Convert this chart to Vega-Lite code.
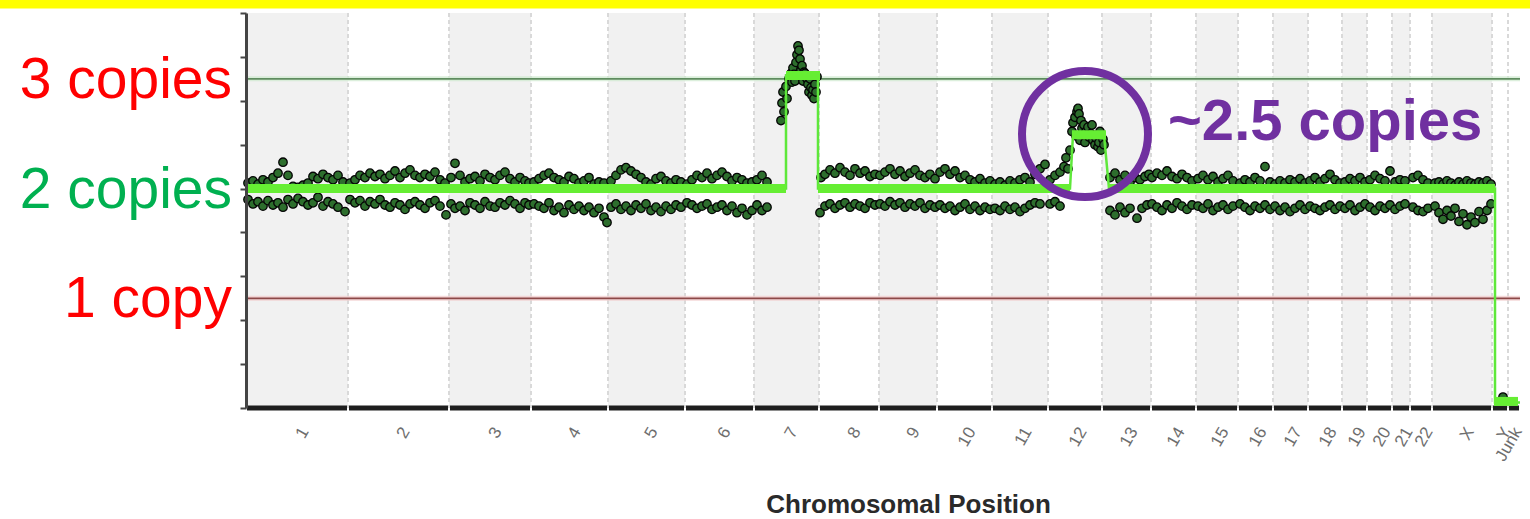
{
"$schema": "https://vega.github.io/schema/vega-lite/v6.json",
"width": 1274,
"height": 395,
"autosize": {"type": "none"},
"padding": {"left": 246, "top": 13, "right": 10, "bottom": 111},
"background": "white",
"config": {"view": {"stroke": null}, "font": "Liberation Sans", "axis": {"grid": false}},
"datasets": {
"chroms": [
{"n":"1","i":1,"s":0,"e":102,"m":51},{"n":"2","i":2,"s":102,"e":203,"m":152},{"n":"3","i":3,"s":203,"e":285,"m":244},{"n":"4","i":4,"s":285,"e":362,"m":323},{"n":"5","i":5,"s":362,"e":439,"m":400},{"n":"6","i":6,"s":439,"e":508,"m":473},{"n":"7","i":7,"s":508,"e":573,"m":540},{"n":"8","i":8,"s":573,"e":633,"m":603},{"n":"9","i":9,"s":633,"e":691,"m":662},{"n":"10","i":10,"s":691,"e":746,"m":718},{"n":"11","i":11,"s":746,"e":802,"m":774},{"n":"12","i":12,"s":802,"e":856,"m":829},{"n":"13","i":13,"s":856,"e":905,"m":880},{"n":"14","i":14,"s":905,"e":950,"m":927},{"n":"15","i":15,"s":950,"e":992,"m":971},{"n":"16","i":16,"s":992,"e":1027,"m":1009},{"n":"17","i":17,"s":1027,"e":1062,"m":1044},{"n":"18","i":18,"s":1062,"e":1096,"m":1079},{"n":"19","i":19,"s":1096,"e":1121,"m":1108},{"n":"20","i":20,"s":1121,"e":1146,"m":1133},{"n":"21","i":21,"s":1146,"e":1164,"m":1155},{"n":"22","i":22,"s":1164,"e":1186,"m":1175},{"n":"X","i":23,"s":1186,"e":1246,"m":1216},{"n":"Y","i":24,"s":1246,"e":1262,"m":1253},{"n":"Junk","i":25,"s":1262,"e":1274,"m":1264}
],
"lines": [{"c":3},{"c":1}],
"seg": [
{"o":1,"p":0,"c":2},{"o":2,"p":540,"c":2},{"o":3,"p":540,"c":3.03},{"o":4,"p":572,"c":3.03},{"o":5,"p":572,"c":2},{"o":6,"p":824,"c":2},{"o":7,"p":827,"c":2.49},{"o":8,"p":858,"c":2.49},{"o":9,"p":863,"c":2},{"o":10,"p":1249,"c":2},{"o":11,"p":1249,"c":0.05},{"o":12,"p":1274,"c":0.05}
],
"flat": [
{"p":0,"p2":540,"c":2},{"p":540,"p2":574,"c":3.03},{"p":572,"p2":824,"c":2},{"p":826,"p2":860,"c":2.49},{"p":862,"p2":1249,"c":2},{"p":1248,"p2":1272,"c":0.06}
],
"copytext": [{"t":"3 copies","c":3},{"t":"2 copies","c":2},{"t":"1 copy","c":1}],
"points": [
{"p":2,"c":2.05},{"p":2,"c":1.90},{"p":7,"c":2.07},{"p":7,"c":1.86},{"p":12,"c":2.04},{"p":12,"c":1.88},{"p":17,"c":2.08},{"p":17,"c":1.84},{"p":22,"c":2.06},{"p":22,"c":1.89},{"p":27,"c":2.10},{"p":27,"c":1.85},{"p":32,"c":2.14},{"p":32,"c":1.87},{"p":37,"c":2.24},{"p":37,"c":1.83},{"p":42,"c":2.12},{"p":42,"c":1.90},{"p":47,"c":2.02},{"p":47,"c":1.86},{"p":52,"c":2.01},{"p":52,"c":1.91},{"p":57,"c":2.03},{"p":57,"c":1.88},{"p":62,"c":2.05},{"p":62,"c":1.85},{"p":67,"c":2.11},{"p":67,"c":1.87},{"p":72,"c":2.09},{"p":72,"c":1.92},{"p":77,"c":2.13},{"p":77,"c":1.84},{"p":82,"c":2.10},{"p":82,"c":1.88},{"p":87,"c":2.08},{"p":87,"c":1.86},{"p":92,"c":2.12},{"p":92,"c":1.83},{"p":97,"c":2.06},{"p":99,"c":1.79},
{"p":104,"c":2.05},{"p":104,"c":1.90},{"p":109,"c":2.08},{"p":109,"c":1.87},{"p":114,"c":2.12},{"p":114,"c":1.89},{"p":119,"c":2.10},{"p":119,"c":1.84},{"p":124,"c":2.14},{"p":124,"c":1.88},{"p":129,"c":2.11},{"p":129,"c":1.86},{"p":134,"c":2.13},{"p":134,"c":1.90},{"p":139,"c":2.09},{"p":139,"c":1.85},{"p":144,"c":2.12},{"p":144,"c":1.83},{"p":149,"c":2.16},{"p":149,"c":1.87},{"p":154,"c":2.10},{"p":154,"c":1.85},{"p":159,"c":2.14},{"p":159,"c":1.81},{"p":164,"c":2.17},{"p":164,"c":1.86},{"p":169,"c":2.12},{"p":169,"c":1.88},{"p":174,"c":2.10},{"p":174,"c":1.85},{"p":179,"c":2.13},{"p":179,"c":1.82},{"p":184,"c":2.11},{"p":184,"c":1.87},{"p":189,"c":2.15},{"p":189,"c":1.89},{"p":194,"c":2.08},{"p":194,"c":1.84},{"p":199,"c":2.05},{"p":200,"c":1.76},
{"p":205,"c":2.10},{"p":205,"c":1.86},{"p":209,"c":2.23},{"p":209,"c":1.82},{"p":214,"c":2.12},{"p":214,"c":1.84},{"p":219,"c":2.06},{"p":219,"c":1.80},{"p":224,"c":2.09},{"p":224,"c":1.87},{"p":229,"c":2.11},{"p":229,"c":1.85},{"p":234,"c":2.07},{"p":234,"c":1.82},{"p":239,"c":2.13},{"p":239,"c":1.88},{"p":244,"c":2.10},{"p":244,"c":1.84},{"p":249,"c":2.08},{"p":249,"c":1.83},{"p":254,"c":2.12},{"p":254,"c":1.87},{"p":259,"c":2.15},{"p":259,"c":1.85},{"p":264,"c":2.09},{"p":264,"c":1.89},{"p":269,"c":2.06},{"p":269,"c":1.86},{"p":274,"c":2.10},{"p":274,"c":1.82},{"p":279,"c":2.07},{"p":279,"c":1.87},{"p":283,"c":2.05},{"p":283,"c":1.85},
{"p":288,"c":2.06},{"p":288,"c":1.86},{"p":293,"c":2.09},{"p":293,"c":1.84},{"p":298,"c":2.12},{"p":298,"c":1.82},{"p":303,"c":2.14},{"p":303,"c":1.87},{"p":308,"c":2.10},{"p":308,"c":1.80},{"p":313,"c":2.08},{"p":313,"c":1.83},{"p":318,"c":2.06},{"p":318,"c":1.78},{"p":323,"c":2.11},{"p":323,"c":1.85},{"p":328,"c":2.09},{"p":328,"c":1.81},{"p":333,"c":2.05},{"p":333,"c":1.84},{"p":338,"c":2.07},{"p":338,"c":1.80},{"p":343,"c":2.10},{"p":343,"c":1.83},{"p":348,"c":2.04},{"p":348,"c":1.78},{"p":353,"c":2.06},{"p":353,"c":1.82},{"p":358,"c":2.05},{"p":358,"c":1.74},{"p":361,"c":1.69},
{"p":365,"c":2.07},{"p":365,"c":1.83},{"p":370,"c":2.12},{"p":370,"c":1.86},{"p":375,"c":2.17},{"p":375,"c":1.81},{"p":380,"c":2.19},{"p":380,"c":1.84},{"p":385,"c":2.16},{"p":385,"c":1.80},{"p":390,"c":2.13},{"p":390,"c":1.85},{"p":395,"c":2.10},{"p":395,"c":1.82},{"p":400,"c":2.06},{"p":400,"c":1.86},{"p":405,"c":2.04},{"p":405,"c":1.80},{"p":410,"c":2.09},{"p":410,"c":1.83},{"p":415,"c":2.11},{"p":415,"c":1.79},{"p":420,"c":2.07},{"p":420,"c":1.84},{"p":425,"c":2.05},{"p":425,"c":1.81},{"p":430,"c":2.08},{"p":430,"c":1.85},{"p":435,"c":2.06},{"p":435,"c":1.83},
{"p":441,"c":2.04},{"p":441,"c":1.87},{"p":446,"c":2.08},{"p":446,"c":1.85},{"p":451,"c":2.12},{"p":451,"c":1.82},{"p":456,"c":2.10},{"p":456,"c":1.84},{"p":461,"c":2.14},{"p":461,"c":1.86},{"p":466,"c":2.09},{"p":466,"c":1.81},{"p":471,"c":2.12},{"p":471,"c":1.83},{"p":476,"c":2.15},{"p":476,"c":1.85},{"p":481,"c":2.11},{"p":481,"c":1.80},{"p":486,"c":2.07},{"p":486,"c":1.84},{"p":491,"c":2.10},{"p":491,"c":1.78},{"p":496,"c":2.08},{"p":496,"c":1.82},{"p":501,"c":2.05},{"p":501,"c":1.76},{"p":506,"c":2.06},{"p":506,"c":1.80},
{"p":511,"c":2.08},{"p":511,"c":1.85},{"p":516,"c":2.12},{"p":516,"c":1.80},{"p":521,"c":2.06},{"p":521,"c":1.83},
{"p":535,"c":2.62},{"p":536,"c":2.78},{"p":537,"c":2.88},{"p":538,"c":2.70},{"p":540,"c":2.93},{"p":541,"c":2.82},{"p":543,"c":3.00},{"p":544,"c":3.02},{"p":545,"c":3.05},{"p":546,"c":2.97},{"p":547,"c":3.10},{"p":548,"c":3.04},{"p":549,"c":2.98},{"p":550,"c":3.15},{"p":551,"c":3.22},{"p":552,"c":3.30},{"p":553,"c":3.26},{"p":554,"c":3.18},{"p":555,"c":3.08},{"p":556,"c":3.12},{"p":557,"c":2.98},{"p":558,"c":3.06},{"p":559,"c":3.05},{"p":560,"c":3.02},{"p":561,"c":3.00},{"p":562,"c":2.95},{"p":563,"c":2.88},{"p":564,"c":3.00},{"p":565,"c":2.92},{"p":566,"c":2.85},{"p":567,"c":2.90},{"p":568,"c":2.82},{"p":569,"c":2.95},{"p":570,"c":2.88},{"p":571,"c":3.02},
{"p":574,"c":1.78},{"p":575,"c":2.10},{"p":579,"c":2.13},{"p":579,"c":1.84},{"p":584,"c":2.17},{"p":584,"c":1.86},{"p":589,"c":2.14},{"p":589,"c":1.82},{"p":594,"c":2.19},{"p":594,"c":1.85},{"p":599,"c":2.15},{"p":599,"c":1.87},{"p":604,"c":2.12},{"p":604,"c":1.83},{"p":609,"c":2.18},{"p":609,"c":1.86},{"p":614,"c":2.14},{"p":614,"c":1.84},{"p":619,"c":2.16},{"p":619,"c":1.82},{"p":624,"c":2.11},{"p":624,"c":1.87},{"p":629,"c":2.13},{"p":629,"c":1.85},
{"p":634,"c":2.12},{"p":634,"c":1.86},{"p":639,"c":2.15},{"p":639,"c":1.84},{"p":644,"c":2.18},{"p":644,"c":1.88},{"p":649,"c":2.13},{"p":649,"c":1.85},{"p":654,"c":2.16},{"p":654,"c":1.87},{"p":659,"c":2.11},{"p":659,"c":1.83},{"p":664,"c":2.14},{"p":664,"c":1.86},{"p":669,"c":2.17},{"p":669,"c":1.84},{"p":674,"c":2.12},{"p":674,"c":1.87},{"p":679,"c":2.10},{"p":679,"c":1.82},{"p":684,"c":2.13},{"p":684,"c":1.85},{"p":689,"c":2.09},{"p":689,"c":1.83},
{"p":694,"c":2.15},{"p":694,"c":1.85},{"p":699,"c":2.18},{"p":699,"c":1.82},{"p":704,"c":2.13},{"p":704,"c":1.84},{"p":709,"c":2.16},{"p":709,"c":1.80},{"p":714,"c":2.10},{"p":714,"c":1.83},{"p":719,"c":2.12},{"p":719,"c":1.86},{"p":724,"c":2.08},{"p":724,"c":1.81},{"p":729,"c":2.06},{"p":729,"c":1.84},{"p":734,"c":2.09},{"p":734,"c":1.80},{"p":739,"c":2.05},{"p":739,"c":1.83},{"p":744,"c":2.07},{"p":744,"c":1.81},
{"p":749,"c":2.04},{"p":749,"c":1.82},{"p":754,"c":2.06},{"p":754,"c":1.80},{"p":759,"c":2.03},{"p":759,"c":1.84},{"p":764,"c":2.07},{"p":764,"c":1.81},{"p":769,"c":2.05},{"p":769,"c":1.83},{"p":774,"c":2.08},{"p":774,"c":1.79},{"p":779,"c":2.10},{"p":779,"c":1.82},{"p":784,"c":2.06},{"p":784,"c":1.85},{"p":789,"c":2.13},{"p":789,"c":1.87},{"p":794,"c":2.18},{"p":794,"c":1.86},{"p":799,"c":2.22},
{"p":804,"c":2.08},{"p":804,"c":1.86},{"p":809,"c":2.12},{"p":809,"c":1.88},{"p":814,"c":2.15},{"p":814,"c":1.84},{"p":818,"c":2.20},{"p":820,"c":2.28},{"p":822,"c":2.18},{"p":824,"c":2.35},{"p":826,"c":2.52},{"p":827,"c":2.60},{"p":829,"c":2.65},{"p":830,"c":2.48},{"p":831,"c":2.70},{"p":832,"c":2.73},{"p":833,"c":2.68},{"p":834,"c":2.44},{"p":835,"c":2.62},{"p":836,"c":2.55},{"p":838,"c":2.58},{"p":839,"c":2.42},{"p":840,"c":2.52},{"p":842,"c":2.56},{"p":843,"c":2.47},{"p":845,"c":2.50},{"p":846,"c":2.58},{"p":847,"c":2.44},{"p":849,"c":2.40},{"p":850,"c":2.46},{"p":852,"c":2.38},{"p":853,"c":2.42},{"p":854,"c":2.52},{"p":855,"c":2.35},{"p":857,"c":2.45},{"p":858,"c":2.40},
{"p":864,"c":2.10},{"p":864,"c":1.80},{"p":869,"c":2.14},{"p":869,"c":1.76},{"p":874,"c":2.08},{"p":874,"c":1.83},{"p":879,"c":2.12},{"p":879,"c":1.78},{"p":884,"c":2.06},{"p":884,"c":1.82},{"p":889,"c":2.10},{"p":891,"c":1.73},{"p":894,"c":2.08},{"p":896,"c":1.82},{"p":899,"c":2.11},{"p":901,"c":1.85},{"p":903,"c":2.13},
{"p":906,"c":2.10},{"p":906,"c":1.86},{"p":911,"c":2.14},{"p":911,"c":1.83},{"p":916,"c":2.12},{"p":916,"c":1.80},{"p":921,"c":2.16},{"p":921,"c":1.85},{"p":926,"c":2.11},{"p":926,"c":1.82},{"p":931,"c":2.09},{"p":931,"c":1.87},{"p":936,"c":2.13},{"p":936,"c":1.84},{"p":941,"c":2.10},{"p":941,"c":1.81},{"p":946,"c":2.07},{"p":946,"c":1.85},
{"p":952,"c":2.09},{"p":952,"c":1.84},{"p":957,"c":2.12},{"p":957,"c":1.82},{"p":962,"c":2.08},{"p":962,"c":1.86},{"p":967,"c":2.11},{"p":967,"c":1.80},{"p":972,"c":2.06},{"p":972,"c":1.83},{"p":977,"c":2.09},{"p":977,"c":1.85},{"p":982,"c":2.12},{"p":982,"c":1.81},{"p":987,"c":2.07},{"p":987,"c":1.84},
{"p":994,"c":2.05},{"p":994,"c":1.86},{"p":999,"c":2.08},{"p":999,"c":1.83},{"p":1004,"c":2.06},{"p":1004,"c":1.80},{"p":1009,"c":2.10},{"p":1009,"c":1.84},{"p":1014,"c":2.07},{"p":1014,"c":1.82},{"p":1019,"c":2.20},{"p":1019,"c":1.85},{"p":1024,"c":2.06},{"p":1024,"c":1.81},
{"p":1029,"c":2.04},{"p":1029,"c":1.84},{"p":1034,"c":2.07},{"p":1034,"c":1.80},{"p":1039,"c":2.05},{"p":1039,"c":1.83},{"p":1044,"c":2.08},{"p":1044,"c":1.79},{"p":1049,"c":2.06},{"p":1049,"c":1.82},{"p":1054,"c":2.09},{"p":1054,"c":1.85},{"p":1059,"c":2.05},{"p":1059,"c":1.81},
{"p":1064,"c":2.07},{"p":1064,"c":1.84},{"p":1069,"c":2.10},{"p":1069,"c":1.82},{"p":1074,"c":2.06},{"p":1074,"c":1.80},{"p":1079,"c":2.09},{"p":1079,"c":1.83},{"p":1084,"c":2.13},{"p":1084,"c":1.85},{"p":1089,"c":2.08},{"p":1089,"c":1.81},{"p":1094,"c":2.05},{"p":1094,"c":1.84},
{"p":1099,"c":2.06},{"p":1099,"c":1.82},{"p":1104,"c":2.09},{"p":1104,"c":1.85},{"p":1109,"c":2.07},{"p":1109,"c":1.80},{"p":1114,"c":2.10},{"p":1114,"c":1.83},{"p":1119,"c":2.06},{"p":1119,"c":1.86},
{"p":1124,"c":2.08},{"p":1124,"c":1.83},{"p":1129,"c":2.12},{"p":1129,"c":1.80},{"p":1134,"c":2.09},{"p":1134,"c":1.84},{"p":1139,"c":2.07},{"p":1139,"c":1.82},{"p":1144,"c":2.16},{"p":1144,"c":1.85},
{"p":1149,"c":2.06},{"p":1149,"c":1.81},{"p":1154,"c":2.08},{"p":1154,"c":1.84},{"p":1159,"c":2.07},{"p":1159,"c":1.86},
{"p":1167,"c":2.10},{"p":1167,"c":1.83},{"p":1172,"c":2.12},{"p":1172,"c":1.80},{"p":1177,"c":2.08},{"p":1177,"c":1.79},{"p":1182,"c":2.05},{"p":1182,"c":1.82},
{"p":1189,"c":2.05},{"p":1189,"c":1.84},{"p":1193,"c":2.06},{"p":1193,"c":1.78},{"p":1197,"c":2.04},{"p":1197,"c":1.72},{"p":1201,"c":2.07},{"p":1201,"c":1.80},{"p":1205,"c":2.05},{"p":1205,"c":1.75},{"p":1209,"c":2.03},{"p":1209,"c":1.82},{"p":1213,"c":2.06},{"p":1213,"c":1.70},{"p":1217,"c":2.04},{"p":1217,"c":1.77},{"p":1221,"c":2.07},{"p":1221,"c":1.67},{"p":1225,"c":2.05},{"p":1225,"c":1.74},{"p":1229,"c":2.04},{"p":1229,"c":1.69},{"p":1233,"c":2.06},{"p":1233,"c":1.79},{"p":1237,"c":2.05},{"p":1237,"c":1.72},{"p":1241,"c":2.07},{"p":1241,"c":1.80},{"p":1245,"c":2.04},{"p":1245,"c":1.86},
{"p":1257,"c":0.10}
]
},
"layer": [
{
"data": {"name": "chroms"},
"mark": {"type": "rect"},
"encoding": {
"x": {"field": "s", "type": "quantitative", "scale": {"domain": [0, 1274], "nice": false, "zero": false},
"axis": {
"domain": false, "ticks": false, "grid": false, "labels": false,
"title": "Chromosomal Position", "titleFontSize": 26, "titleFontWeight": "bold", "titleColor": "#2a2a2a", "titleFont": "Liberation Sans",
"titleX": 662, "titleY": 104, "titleBaseline": "alphabetic", "titleAlign": "center"
}},
"x2": {"field": "e"},
"fill": {"condition": {"test": "datum.i % 2 == 1 && datum.i < 24", "value": "#f1f1f1"}, "value": "#ffffff"}
}
},
{
"data": {"name": "chroms"},
"transform": [{"filter": "datum.i < 25"}],
"mark": {"type": "rule", "color": "#d9d9d9", "strokeWidth": 2, "strokeDash": [4, 3]},
"encoding": {
"x": {"field": "e", "type": "quantitative", "scale": {"domain": [0, 1274], "nice": false, "zero": false}}
}
},
{
"data": {"name": "lines"},
"mark": {"type": "rule", "strokeWidth": 5, "opacity": 0.8},
"encoding": {
"y": {"field": "c", "type": "quantitative", "scale": {"domain": [0, 3.6], "nice": false, "zero": false},
"axis": {"values": [0,0.4,0.8,1.2,1.6,2,2.4,2.8,3.2,3.6], "labels": false, "title": "copies", "titleOpacity": 0, "grid": false, "zindex": 1,
"domain": true, "domainColor": "#444444", "domainWidth": 3, "ticks": true, "tickColor": "#444444", "tickWidth": 2, "tickSize": 6}},
"color": {"condition": {"test": "datum.c == 3", "value": "#d3ebd3"}, "value": "#f3d0d0"}
}
},
{
"data": {"name": "lines"},
"mark": {"type": "rule", "strokeWidth": 1.8},
"encoding": {
"y": {"field": "c", "type": "quantitative", "scale": {"domain": [0, 3.6], "nice": false, "zero": false}},
"color": {"condition": {"test": "datum.c == 3", "value": "#5f8c5f"}, "value": "#8c4848"}
}
},
{
"data": {"name": "chroms"},
"mark": {"type": "rule", "strokeWidth": 5, "color": "#1e1e1e", "xOffset": 1, "x2Offset": -1},
"encoding": {
"x": {"field": "s", "type": "quantitative", "scale": {"domain": [0, 1274], "nice": false, "zero": false}},
"x2": {"field": "e"},
"y": {"datum": 0, "type": "quantitative", "scale": {"domain": [0, 3.6], "nice": false, "zero": false}}
}
},
{
"data": {"name": "chroms"},
"mark": {"type": "text", "angle": -60, "align": "right", "baseline": "middle", "fontSize": 17, "font": "Liberation Sans", "color": "#6e6e6e", "xOffset": 8},
"encoding": {
"x": {"field": "m", "type": "quantitative", "scale": {"domain": [0, 1274], "nice": false, "zero": false}},
"y": {"datum": -0.19, "type": "quantitative", "scale": {"domain": [0, 3.6], "nice": false, "zero": false}},
"text": {"field": "n"}
}
},
{
"data": {"name": "points"},
"mark": {"type": "point", "shape": "circle", "filled": true, "fill": "#2d6e2d", "stroke": "#050505", "strokeWidth": 1.3, "size": 72, "opacity": 1},
"encoding": {
"x": {"field": "p", "type": "quantitative", "scale": {"domain": [0, 1274], "nice": false, "zero": false}},
"y": {"field": "c", "type": "quantitative", "scale": {"domain": [0, 3.6], "nice": false, "zero": false}}
}
},
{
"data": {"name": "seg"},
"mark": {"type": "line", "color": "#5ee83a", "strokeWidth": 2.5},
"encoding": {
"x": {"field": "p", "type": "quantitative", "scale": {"domain": [0, 1274], "nice": false, "zero": false}},
"y": {"field": "c", "type": "quantitative", "scale": {"domain": [0, 3.6], "nice": false, "zero": false}},
"order": {"field": "o"}
}
},
{
"data": {"name": "flat"},
"mark": {"type": "rule", "color": "#66ee33", "strokeWidth": 9},
"encoding": {
"x": {"field": "p", "type": "quantitative", "scale": {"domain": [0, 1274], "nice": false, "zero": false}},
"x2": {"field": "p2"},
"y": {"field": "c", "type": "quantitative", "scale": {"domain": [0, 3.6], "nice": false, "zero": false}}
}
},
{
"data": {"name": "copytext"},
"mark": {"type": "text", "align": "right", "baseline": "alphabetic", "dy": 19, "fontSize": 57, "font": "Liberation Sans"},
"encoding": {
"x": {"datum": -14, "type": "quantitative", "scale": {"domain": [0, 1274], "nice": false, "zero": false}},
"y": {"field": "c", "type": "quantitative", "scale": {"domain": [0, 3.6], "nice": false, "zero": false}},
"text": {"field": "t"},
"color": {"condition": {"test": "datum.c == 2", "value": "#00b050"}, "value": "#ff0000"}
}
},
{
"data": {"values": [{}]},
"mark": {"type": "text", "text": "~2.5 copies", "align": "left", "baseline": "alphabetic", "fontSize": 58, "fontWeight": "bold", "font": "Liberation Sans", "color": "#7030a0"},
"encoding": {
"x": {"datum": 922, "type": "quantitative", "scale": {"domain": [0, 1274], "nice": false, "zero": false}},
"y": {"datum": 2.443, "type": "quantitative", "scale": {"domain": [0, 3.6], "nice": false, "zero": false}}
}
},
{
"data": {"values": [{}]},
"mark": {"type": "point", "shape": "circle", "filled": false, "stroke": "#7030a0", "strokeWidth": 8, "size": 15876, "opacity": 1},
"encoding": {
"x": {"datum": 839, "type": "quantitative", "scale": {"domain": [0, 1274], "nice": false, "zero": false}},
"y": {"datum": 2.497, "type": "quantitative", "scale": {"domain": [0, 3.6], "nice": false, "zero": false}}
}
},
{
"data": {"values": [{}]},
"mark": {"type": "rect", "color": "#ffff00"},
"encoding": {
"x": {"datum": -246, "type": "quantitative", "scale": {"domain": [0, 1274], "nice": false, "zero": false}},
"x2": {"datum": 1284},
"y": {"datum": 3.73, "type": "quantitative", "scale": {"domain": [0, 3.6], "nice": false, "zero": false}},
"y2": {"datum": 3.641}
}
}
]
}
